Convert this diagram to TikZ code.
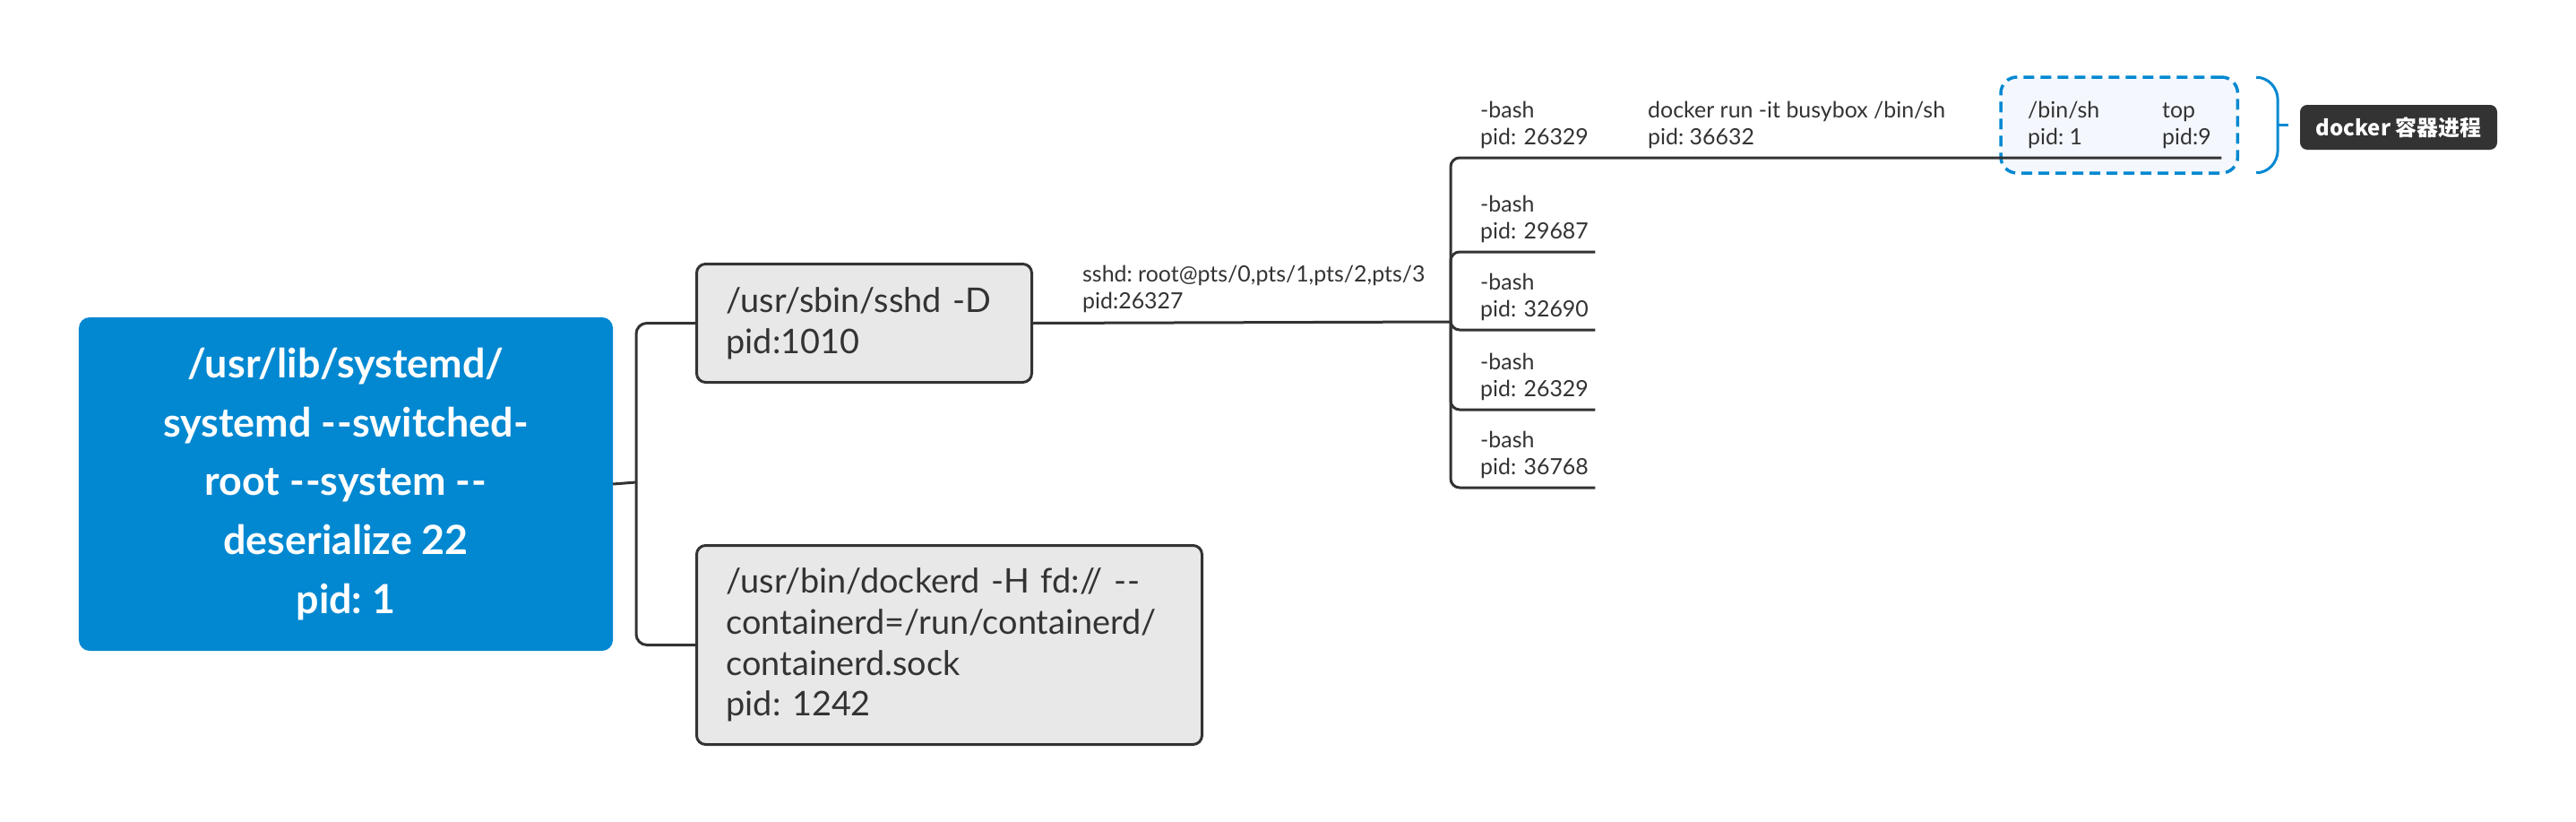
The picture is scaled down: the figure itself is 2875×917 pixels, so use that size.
\documentclass[tikz,border=0pt]{standalone}
\usepackage{fontspec}
\setmainfont{Lato}
\newfontfamily\cjk{Noto Sans CJK SC}
\usetikzlibrary{calc,fit,backgrounds}
\definecolor{rootblue}{HTML}{0288D1}
\definecolor{ink}{HTML}{333333}
\definecolor{boxgray}{HTML}{E8E8E8}
\definecolor{ctrfill}{HTML}{F4F8FE}
\newcommand{\ddash}{-\kern1pt-}
\frenchspacing
\begin{document}
\begin{tikzpicture}[x=1bp,y=-1bp]
    \tikzset{
        conn/.style={draw=ink,line width=3bp},
        rootbox/.style={fill=rootblue,rounded corners=12bp,text=white,align=center,
            minimum width=596bp,minimum height=372bp,font=\bfseries\fontsize{45}{66}\selectfont},
        procbox/.style={draw=ink,fill=boxgray,line width=3bp,rounded corners=10bp,text=ink,
            align=left,anchor=north west,inner xsep=33bp,inner ysep=0pt,font=\fontsize{38}{46}\selectfont},
        leaf/.style={text=ink,align=left,anchor=south west,inner sep=0pt,font=\fontsize{25}{30}\selectfont},
        ctrbox/.style={draw=rootblue,fill=ctrfill,line width=3.5bp,dash pattern=on 12bp off 7bp,
            rounded corners=18bp,inner sep=0pt},
        bracket/.style={draw=rootblue,line width=3bp},
        tagbox/.style={fill=ink,text=white,rounded corners=8bp,minimum width=220bp,minimum height=50bp,
            font=\cjk\bfseries\fontsize{24}{24}\selectfont},
    }
    \useasboundingbox (0,0) rectangle (2875,917);

    \node[rootbox] (root) at (386,540) {/usr/lib/systemd/\\systemd \ddash switched-\\root \ddash system \ddash\\deserialize 22\\pid: 1};
    \node[procbox,text width=308bp,minimum height=132bp] (sshd) at (776,293) {/usr/sbin/sshd -D\\pid:1010};
    \node[procbox,text width=498bp,minimum height=222bp] (dockerd) at (776,607)
        {/usr/bin/dockerd -H fd:// \ddash\\containerd=/run/containerd/\\containerd.sock\\pid: 1242};

    \coordinate (rj) at (710,538);
    \draw[conn] (root.east) -- (rj);
    \draw[conn,rounded corners=12bp] (rj) |- (sshd.west);
    \draw[conn,rounded corners=12bp] (rj) |- (dockerd.west);

    % sshd session and its shells
    \node[leaf] (sess) at (1208,349) {sshd: root@pts/0,pts/1,pts/2,pts/3\\pid:26327};
    \coordinate (bj) at (1619,359);
    \draw[conn] (sshd.east) -- (bj);

    \node[leaf,text width=128bp] (b1) at (1652,166) {-bash\\pid: 26329};
    \node[leaf] (run) at (1839,166) {docker run -it busybox /bin/sh\\pid: 36632};
    \node[leaf] (sh) at (2263,166) {/bin/sh\\pid: 1};
    \node[leaf,text width=66bp] (top) at (2413,166) {top\\pid:9};
    \node[leaf,text width=128bp] (b2) at (1652,271) {-bash\\pid: 29687};
    \node[leaf,text width=128bp] (b3) at (1652,358) {-bash\\pid: 32690};
    \node[leaf,text width=128bp] (b4) at (1652,447) {-bash\\pid: 26329};
    \node[leaf,text width=128bp] (b5) at (1652,534) {-bash\\pid: 36768};

    \draw[conn,rounded corners=10bp] (bj) |- ($(top.south east)+(0,10)$);
    \foreach \b in {b2,b3,b4,b5}
        \draw[conn,rounded corners=10bp] (bj) |- ($(\b.south east)+(0,10)$);

    % container
    \begin{scope}[on background layer]
        \node[ctrbox,fit={($(sh.south west)+(-30,-80)$) ($(top.south east)+(18,27)$)}] (ctr) {};
    \end{scope}
    \coordinate (bt) at ($(ctr.east)+(43,0)$);
    \draw[bracket] ($(ctr.north east)+(19,2)$) to[out=0,in=90] ($(bt)+(0,-28)$) -- ($(bt)+(0,28)$)
        to[out=-90,in=0] ($(ctr.south east)+(19,-2)$);
    \draw[bracket] (bt) -- ++(12,0);
    \node[tagbox] (tag) at (2677,142) {docker 容器进程};
\end{tikzpicture}
\end{document}
